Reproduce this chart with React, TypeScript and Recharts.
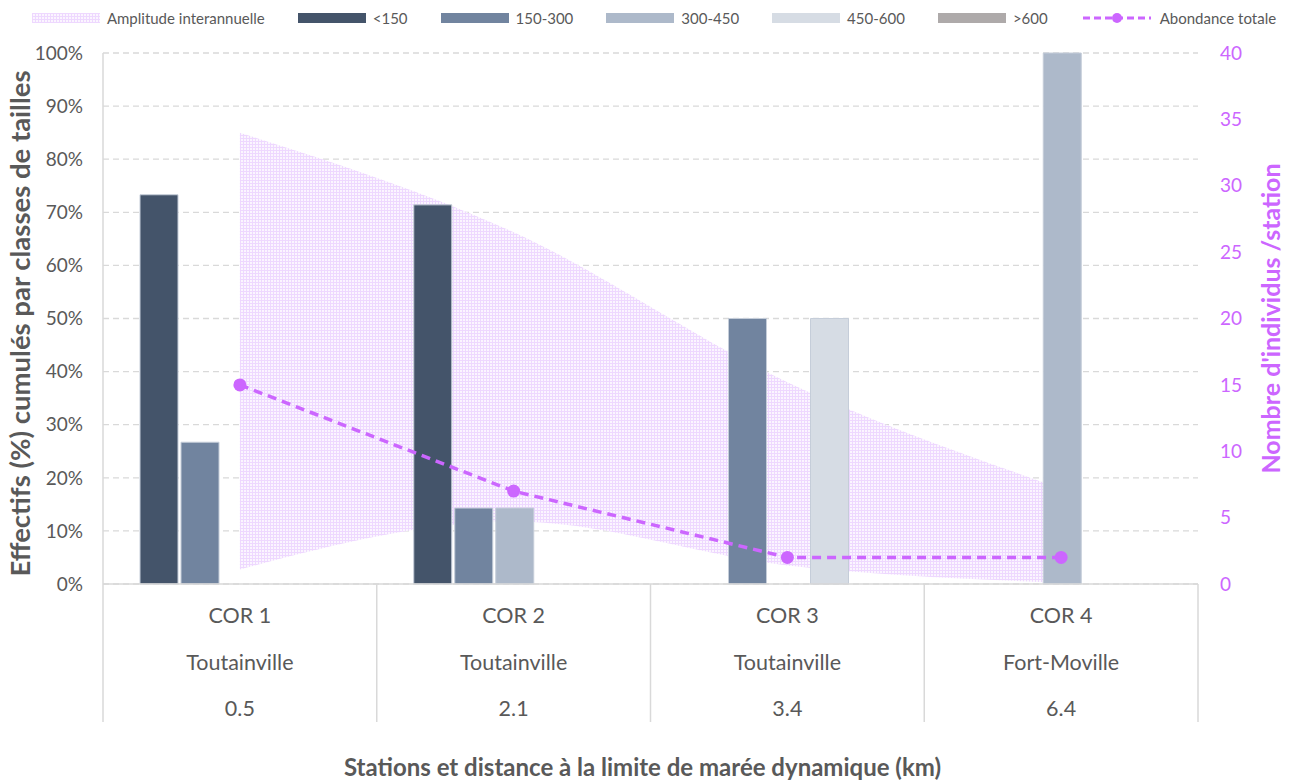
import React from 'react';
import { ComposedChart, Bar, Line, Area, XAxis, YAxis, CartesianGrid } from 'recharts';

// ---- Data ----
const stations = ['COR 1', 'COR 2', 'COR 3', 'COR 4'];
const communes = ['Toutainville', 'Toutainville', 'Toutainville', 'Fort-Moville'];
const distances = ['0.5', '2.1', '3.4', '6.4'];

const sizeClasses = ['<150', '150-300', '300-450', '450-600', '>600'];
const classColors = ['#44546A', '#71849F', '#ADB9CA', '#D6DCE4', '#AEAAAA'];

const lt150 = [0.733, 0.714, null, null];
const c150_300 = [0.267, 0.143, 0.5, null];
const c300_450 = [null, 0.143, null, 1.0];
const c450_600 = [null, null, 0.5, null];
const gt600 = [null, null, null, null];

const abundance = [15, 7, 2, 2];
const amplitudeLow = [1.1, 4.7, 1.4, 0.1];
const amplitudeHigh = [34, 26.5, 15.2, 7.2];

const leftTicks = [0, 0.1, 0.2, 0.3, 0.4, 0.5, 0.6, 0.7, 0.8, 0.9, 1];
const rightTicks = [0, 5, 10, 15, 20, 25, 30, 35, 40];

const classSeries = [lt150, c150_300, c300_450, c450_600, gt600];

const data = stations.map((s, i) => {
  const row: any = {
    station: s,
    commune: communes[i],
    distance: distances[i],
    total: abundance[i],
    amp: [amplitudeLow[i], amplitudeHigh[i]],
  };
  classSeries.forEach((arr, k) => {
    row['c' + k] = arr[i];
  });
  return row;
});

const FONT = 'Lato, "Open Sans", sans-serif';
const GREY = '#595959';
const MAGENTA = '#CC66FF';

const StationTick = (props: any) => {
  const { x, y, payload, width, visibleTicksCount } = props;
  const n = visibleTicksCount || stations.length;
  const band = (width || 1095) / n;
  const idx = stations.indexOf(payload.value);
  const txt = { fill: GREY, fontSize: 21.5, fontFamily: FONT, textAnchor: 'middle' as const, dominantBaseline: 'central' as const };
  return (
    <g>
      <line x1={x - band / 2} x2={x - band / 2} y1={y} y2={y + 138} stroke="#D9D9D9" strokeWidth={1.5} />
      {idx === n - 1 && (
        <line x1={x + band / 2} x2={x + band / 2} y1={y} y2={y + 138} stroke="#D9D9D9" strokeWidth={1.5} />
      )}
      <text x={x} y={y + 31} {...txt}>{payload.value}</text>
      <text x={x} y={y + 78} {...txt}>{communes[idx]}</text>
      <text x={x} y={y + 124} {...txt}>{distances[idx]}</text>
    </g>
  );
};

const XTitle = (props: any) => {
  const vb = props.viewBox || { x: 103, y: 584, width: 1095 };
  return (
    <text x={vb.x + vb.width / 2 - 8} y={vb.y + 182} textAnchor="middle" dominantBaseline="central"
      fill={GREY} fontSize={24} fontWeight={700} fontFamily={FONT}>
      Stations et distance à la limite de marée dynamique (km)
    </text>
  );
};

const LeftTitle = (props: any) => {
  const vb = props.viewBox || { x: 0, y: 53, width: 103, height: 531 };
  const cx = vb.x + 19;
  const cy = vb.y + vb.height / 2 + 5;
  return (
    <text x={cx} y={cy} transform={`rotate(-90 ${cx} ${cy})`} textAnchor="middle" dominantBaseline="central"
      fill={GREY} fontSize={27.5} fontWeight={700} fontFamily={FONT}>
      Effectifs (%) cumulés par classes de tailles
    </text>
  );
};

const RightTitle = (props: any) => {
  const vb = props.viewBox || { x: 1198, y: 53, width: 92, height: 531 };
  const cx = vb.x + 72;
  const cy = vb.y + vb.height / 2;
  return (
    <text x={cx} y={cy} transform={`rotate(-90 ${cx} ${cy})`} textAnchor="middle" dominantBaseline="central"
      fill={MAGENTA} fontSize={25} fontWeight={700} fontFamily={FONT}>
      Nombre d'individus /station
    </text>
  );
};

const LegendBar = () => {
  const item = { display: 'flex', alignItems: 'center' } as const;
  const sw = { width: 68, height: 10, marginRight: 7 } as const;
  return (
    <div style={{ position: 'absolute', left: 0, top: 0, width: 1290, height: 36, display: 'flex', justifyContent: 'center', alignItems: 'center', gap: 33, paddingLeft: 18, boxSizing: 'border-box', fontFamily: FONT, fontSize: 15, color: GREY }}>
      <div style={item}>
        <svg width={68} height={10} style={{ marginRight: 7 }}>
          <rect width={68} height={10} fill="url(#ampPattern)" />
        </svg>
        <span>Amplitude interannuelle</span>
      </div>
      {sizeClasses.map((c, i) => (
        <div key={c} style={item}>
          <div style={{ ...sw, background: classColors[i] }} />
          <span>{c}</span>
        </div>
      ))}
      <div style={item}>
        <svg width={72} height={14} style={{ marginRight: 7 }}>
          <line x1={2} x2={70} y1={7} y2={7} stroke={MAGENTA} strokeWidth={3} strokeDasharray="7 4" />
          <circle cx={36} cy={7} r={5} fill={MAGENTA} />
        </svg>
        <span>Abondance totale</span>
      </div>
    </div>
  );
};

export default function App() {
  return (
    <div style={{ position: 'absolute', left: 0, top: 0, width: 1290, height: 781, background: '#fff' }}>
      <svg width={0} height={0} style={{ position: 'absolute' }}>
        <defs>
          <pattern id="ampPattern" width={3} height={3} patternUnits="userSpaceOnUse">
            <rect width={3} height={3} fill="#FBF5FF" />
            <path d="M0 0.5H3M0.5 0V3" stroke="#EED8FF" strokeWidth={1} />
          </pattern>
        </defs>
      </svg>
      <LegendBar />
      <ComposedChart
        width={1290}
        height={781}
        data={data}
        margin={{ top: 53, right: 0, bottom: 0, left: 0 }}
        barCategoryGap={37}
        barGap={3}
      >
        <CartesianGrid yAxisId="left" vertical={false} stroke="#D9D9D9" strokeWidth={1.3} strokeDasharray="6 4" />
        <XAxis
          dataKey="station"
          height={197}
          axisLine={{ stroke: '#D9D9D9', strokeWidth: 1.5 }}
          tickLine={false}
          tickSize={0}
          tickMargin={0}
          interval={0}
          tick={<StationTick />}
          label={<XTitle />}
        />
        <YAxis
          yAxisId="left"
          width={103}
          domain={[0, 1]}
          ticks={leftTicks}
          interval={0}
          tickFormatter={(v: number) => `${Math.round(v * 100)}%`}
          axisLine={{ stroke: '#D9D9D9', strokeWidth: 1.5 }}
          tickLine={false}
          tickSize={0}
          tickMargin={20}
          tick={{ fill: GREY, fontSize: 19, fontFamily: FONT }}
          label={<LeftTitle />}
        />
        <YAxis
          yAxisId="right"
          orientation="right"
          width={92}
          domain={[0, 40]}
          ticks={rightTicks}
          interval={0}
          axisLine={false}
          tickLine={false}
          tickSize={0}
          tickMargin={22}
          tick={{ fill: MAGENTA, fontSize: 19, fontFamily: FONT, textAnchor: 'start' }}
          label={<RightTitle />}
        />
        <Area
          yAxisId="right"
          dataKey="amp"
          type="monotone"
          stroke="none"
          fill="url(#ampPattern)"
          fillOpacity={1}
          isAnimationActive={false}
          name="Amplitude interannuelle"
        />
        {sizeClasses.map((c, k) => (
          <Bar
            key={c}
            yAxisId="left"
            dataKey={'c' + k}
            name={c}
            fill={classColors[k]}
            stroke="#C5CDD9"
            strokeWidth={1}
            isAnimationActive={false}
          />
        ))}
        <Line
          yAxisId="right"
          dataKey="total"
          type="linear"
          stroke={MAGENTA}
          strokeWidth={3.5}
          strokeDasharray="9 6"
          dot={{ r: 6.5, fill: MAGENTA, stroke: MAGENTA, strokeWidth: 0, strokeDasharray: '' }}
          isAnimationActive={false}
          name="Abondance totale"
        />
      </ComposedChart>
    </div>
  );
}
